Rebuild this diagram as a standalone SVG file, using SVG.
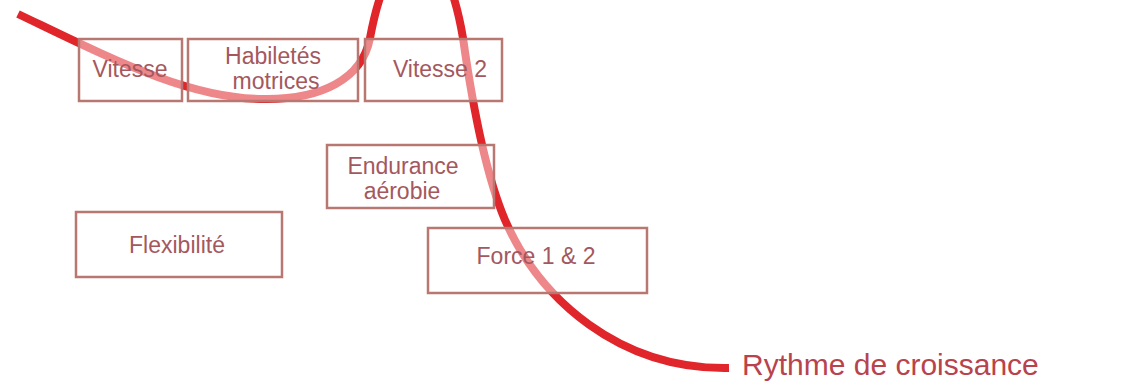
<svg xmlns="http://www.w3.org/2000/svg" width="1121" height="385" viewBox="0 0 1121 385">
<style>
.box{fill:#ffffff;fill-opacity:0.45;stroke:#b87770;stroke-width:2.5}
.lbl{font-family:"Liberation Sans",Arial,sans-serif;font-size:23px;fill:#a4585e;text-anchor:middle}
.curve{fill:none;stroke:#e0252b;stroke-width:8;stroke-linecap:butt}
.title{font-family:"Liberation Sans",Arial,sans-serif;font-size:30px;fill:#b8434d}
</style>
<rect width="1121" height="385" fill="#ffffff"/>
<g id="connectors">
<path class="curve" d="M18 14 C110 58 190 100 267 99 C320 99 362 80 370 38 C392 -80 443 -80 463 38 C474 116 488 180 505 220 C540 300 620 370 729 368"/>
</g>
<g id="node-vitesse">
<rect class="box" x="79" y="39" width="103" height="62"/>
<text class="lbl" x="130" y="77">Vitesse</text>
</g>
<g id="node-habiletes">
<rect class="box" x="188" y="39" width="170" height="62"/>
<text class="lbl" x="273" y="64">Habiletés</text>
<text class="lbl" x="276" y="89">motrices</text>
</g>
<g id="node-vitesse2">
<rect class="box" x="365" y="39" width="137" height="62"/>
<text class="lbl" x="440" y="77">Vitesse 2</text>
</g>
<g id="node-endurance">
<rect class="box" x="327" y="145" width="167" height="63"/>
<text class="lbl" x="403" y="174">Endurance</text>
<text class="lbl" x="402" y="199">aérobie</text>
</g>
<g id="node-flexibilite">
<rect class="box" x="76" y="212" width="206" height="65"/>
<text class="lbl" x="177" y="253">Flexibilité</text>
</g>
<g id="node-force">
<rect class="box" x="428" y="228" width="219" height="65"/>
<text class="lbl" x="536" y="264">Force 1 &amp; 2</text>
</g>
<g id="label-rythme">
<text class="title" x="742" y="375">Rythme de croissance</text>
</g>
</svg>
